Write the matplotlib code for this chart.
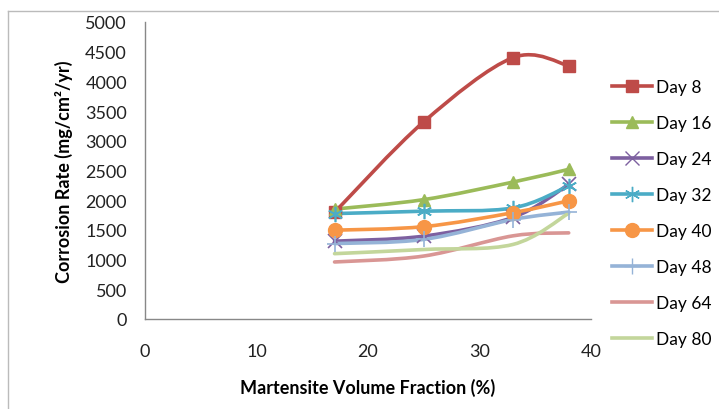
import matplotlib.pyplot as plt
from matplotlib.path import Path
from matplotlib.patches import PathPatch
from matplotlib.lines import Line2D

# data
fraction = [17, 25, 33, 38]
labels = ['Day 8', 'Day 16', 'Day 24', 'Day 32', 'Day 40', 'Day 48', 'Day 64', 'Day 80']
day8 = [1795, 3320, 4400, 4265]
day16 = [1850, 2010, 2305, 2520]
day24 = [1310, 1395, 1710, 2265]
day32 = [1775, 1815, 1870, 2240]
day40 = [1495, 1555, 1790, 1990]
day48 = [1270, 1340, 1675, 1800]
day64 = [960, 1060, 1400, 1450]
day80 = [1100, 1170, 1255, 1780]
series = [day8, day16, day24, day32, day40, day48, day64, day80]

colors = ['#BE4B48', '#9BBB59', '#7D60A0', '#4BACC6', '#F79646', '#95B3D7', '#D99694', '#C3D69B']
markers = ['s', '^', 'x', (6, 2, 0), 'o', '+', None, None]
msizes = [9, 9, 10, 11, 10, 12, 0, 0]

plt.rcParams['font.family'] = ['Lato', 'DejaVu Sans']


def smooth_path(xs, ys):
    # Excel-style smoothed line: cubic Bezier segments (Catmull-Rom control points)
    pts = list(zip(xs, ys))
    verts = [pts[0]]
    codes = [Path.MOVETO]
    n = len(pts)
    for i in range(n - 1):
        p0 = pts[max(i - 1, 0)]
        p1 = pts[i]
        p2 = pts[i + 1]
        p3 = pts[min(i + 2, n - 1)]
        c1 = (p1[0] + (p2[0] - p0[0]) / 6, p1[1] + (p2[1] - p0[1]) / 6)
        c2 = (p2[0] - (p3[0] - p1[0]) / 6, p2[1] - (p3[1] - p1[1]) / 6)
        verts += [c1, c2, p2]
        codes += [Path.CURVE4] * 3
    return Path(verts, codes)


fig = plt.figure(figsize=(7.19, 4.10), dpi=100)
# outer chart frame
fig.add_artist(Line2D([8 / 719, 8 / 719], [0, 1 - 12 / 410], color='#BBBBBB', lw=1))
fig.add_artist(Line2D([8 / 719, 1], [1 - 12 / 410, 1 - 12 / 410], color='#BBBBBB', lw=1))

ax = fig.add_axes([145 / 719, 90 / 410, 446 / 719, 297 / 410])

handles = []
for vals, c, m, ms, lab in zip(series, colors, markers, msizes, labels):
    ax.add_patch(PathPatch(smooth_path(fraction, vals), fill=False, edgecolor=c, lw=2.6,
                           capstyle='round', joinstyle='round'))
    if m is not None:
        ax.plot(fraction, vals, linestyle='none', marker=m, markersize=ms, color=c,
                markeredgewidth=1.2 if m in ('x', '+') or isinstance(m, tuple) else 1)
    handles.append(Line2D([], [], color=c, lw=2.6, marker=m, markersize=ms if m else 0,
                          markeredgewidth=1.0))

ax.set_xlim(0, 40)
ax.set_ylim(0, 5000)
ax.set_xticks(range(0, 41, 10))
ax.set_yticks(range(0, 5001, 500))
for s in ['top', 'right']:
    ax.spines[s].set_visible(False)
for s in ['left', 'bottom']:
    ax.spines[s].set_color('#888888')
    ax.spines[s].set_linewidth(1)
ax.tick_params(length=0, labelsize=13, colors='#222222')
ax.tick_params(axis='x', pad=17)
ax.tick_params(axis='y', pad=13)

ax.set_xlabel('Martensite Volume Fraction (%)', fontsize=13, fontweight='bold', labelpad=14)
ax.set_ylabel('Corrosion Rate (mg/cm²/yr)', fontsize=13, fontweight='bold', labelpad=9)

leg = ax.legend(handles, labels, loc='upper left', bbox_to_anchor=(605 / 719, 1 - 73 / 410),
                bbox_transform=fig.transFigure, frameon=False, fontsize=12.5,
                handlelength=2.3, handletextpad=0.25, labelspacing=1.15, borderaxespad=0)

fig.savefig('out.png', dpi=100)
